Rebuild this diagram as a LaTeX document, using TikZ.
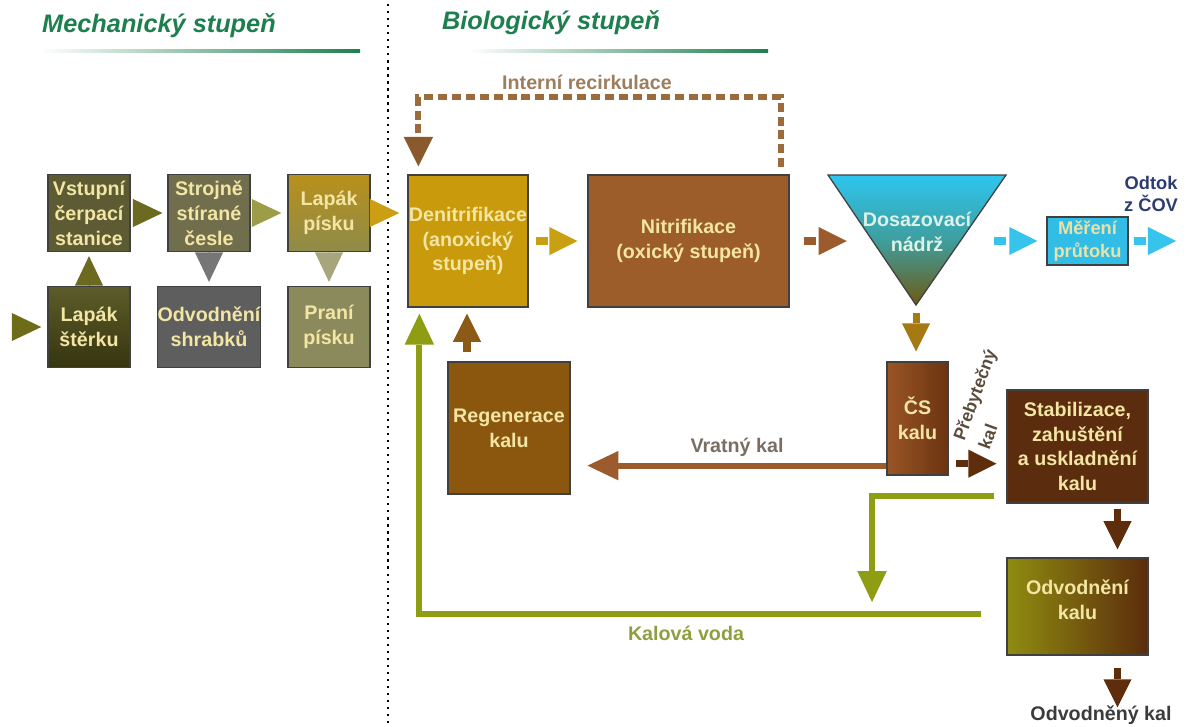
\documentclass[tikz,border=0pt]{standalone}
\usepackage{fontspec}
\setmainfont{Liberation Sans}
\usetikzlibrary{arrows.meta,calc}
\definecolor{Title}{HTML}{1E7F4E}
\definecolor{BoxText}{HTML}{F3E6A4}
\definecolor{Vstup}{HTML}{5C5B33}
\definecolor{Cesle}{HTML}{706E4D}
\definecolor{LapakPTop}{HTML}{B8901A}
\definecolor{LapakPBot}{HTML}{8F8B4A}
\definecolor{LapakSTop}{HTML}{5D5C2A}
\definecolor{LapakSBot}{HTML}{35350F}
\definecolor{Shrabky}{HTML}{5E5E5E}
\definecolor{Prani}{HTML}{8B8A5D}
\definecolor{TriIn}{HTML}{6E6C18}
\definecolor{TriOlive}{HTML}{6B6A20}
\definecolor{TriOliveL}{HTML}{9D9C48}
\definecolor{TriGold}{HTML}{CC9E14}
\definecolor{TriGray}{HTML}{767676}
\definecolor{TriGrayOl}{HTML}{A6A57C}
\definecolor{Denit}{HTML}{C99A0C}
\definecolor{Nitri}{HTML}{9C5D2A}
\definecolor{Regen}{HTML}{8B570E}
\definecolor{CSl}{HTML}{9A5526}
\definecolor{CSr}{HTML}{6B3410}
\definecolor{Stab}{HTML}{5B2C0D}
\definecolor{OdvkL}{HTML}{8F8C10}
\definecolor{OdvkR}{HTML}{5B2C0D}
\definecolor{NadTop}{HTML}{2EC5EF}
\definecolor{NadMid}{HTML}{3E9E9E}
\definecolor{NadBot}{HTML}{6E5A14}
\definecolor{NadText}{HTML}{DDF2E6}
\definecolor{Cyan}{HTML}{36C3EC}
\definecolor{MerFill}{HTML}{32BDE6}
\definecolor{MerText}{HTML}{E9E2A8}
\definecolor{OdtokTxt}{HTML}{2D3C6E}
\definecolor{ArrGold}{HTML}{C9A012}
\definecolor{ArrBrown}{HTML}{9B5B2D}
\definecolor{ArrGB}{HTML}{A67912}
\definecolor{ArrDark}{HTML}{5E2D0C}
\definecolor{ArrRegen}{HTML}{8C5A16}
\definecolor{Kalova}{HTML}{8E9D12}
\definecolor{KalovaTxt}{HTML}{8F9E3E}
\definecolor{Recirc}{HTML}{9B6B3B}
\definecolor{RecircTip}{HTML}{8A5A2C}
\definecolor{RecircTxt}{HTML}{9C7E5E}
\definecolor{VratnyTxt}{HTML}{7A6E62}
\definecolor{PrebTxt}{HTML}{5B4B3B}
\definecolor{OdvKalTxt}{HTML}{3B3B3B}

\tikzset{
  stage/.style={draw=black!75,line width=0.9pt,align=center,inner sep=0pt,text=BoxText,
    font=\fontsize{14}{17.7}\selectfont\bfseries},
  heading/.style={font=\fontsize{18}{22}\selectfont\bfseries\itshape,text=Title,inner sep=0pt},
  lbl/.style={font=\fontsize{14}{17.7}\selectfont\bfseries,inner sep=0pt,align=center},
  mtri/.style={line width=0.4pt,-{Triangle[length=21pt,width=20pt,line width=0pt]}},
  stub/.style={line width=5pt,dash pattern=on 8.5pt off 2.5pt,-{Triangle[length=20pt,width=20pt,line width=0pt]}},
  flow/.style={line width=4.4pt,-{Triangle[length=22pt,width=21pt,line width=0pt]}},
  recirc/.style={line width=4.3pt,Recirc,dash pattern=on 6.4pt off 3.5pt,
    -{Triangle[length=21pt,width=21pt,line width=0pt,color=RecircTip]}},
}

\begin{document}
\begin{tikzpicture}[x=0.025cm,y=-0.025cm]
\useasboundingbox (0,0) rectangle (1187,726);
% headings
\node[heading] (mech) at (159,26) {Mechanický stupeň};
\node[heading] (bio) at (551,23) {Biologický stupeň};
\shade[left color=white,right color=Title] (40,49) rectangle (360,52);
\shade[left color=white,right color=Title] (467,49) rectangle (768,52);
\draw[line width=1.6pt,dash pattern=on 1.6pt off 3.4pt] (388,4) -- (388,726);

% mechanical stage
\node[stage,fill=Vstup,minimum width=2.05cm,minimum height=1.925cm] (vstup) at (89,213) {Vstupní\\čerpací\\stanice};
\node[stage,fill=Cesle,minimum width=2.05cm,minimum height=1.925cm] (cesle) at (209,213) {Strojně\\stírané\\česle};
\node[stage,top color=LapakPTop,bottom color=LapakPBot,minimum width=2.05cm,minimum height=1.925cm] (lapakp) at (329,213) {Lapák\\písku};
\node[stage,top color=LapakSTop,bottom color=LapakSBot,minimum width=2.05cm,minimum height=2.025cm] (lapaks) at (89,327) {Lapák\\štěrku};
\node[stage,fill=Shrabky,minimum width=2.05cm,minimum height=2.025cm] (shrabky) at (209,327) {Odvodnění\\shrabků};
\node[stage,fill=Prani,minimum width=2.05cm,minimum height=2.025cm] (prani) at (329,327) {Praní\\písku};
\coordinate (in) at (13.5,327);

% biological stage
\node[stage,fill=Denit,minimum width=3cm,minimum height=3.3cm] (denit) at (468,241) {Denitrifikace\\(anoxický\\stupeň)};
\node[stage,fill=Nitri,minimum width=5.025cm,minimum height=3.3cm] (nitri) at (688.5,241) {Nitrifikace\\(oxický stupeň)};
\coordinate (ntl) at (828,175);
\coordinate (ntr) at (1006,175);
\coordinate (nbot) at (916,305);
\shadedraw[draw=black!75,line width=0.9pt,top color=NadTop,bottom color=NadBot,middle color=NadMid] (ntl) -- (ntr) -- (nbot) -- cycle;
\node[stage,draw=none,text=NadText] (nadrz) at (917,232) {Dosazovací\\nádrž};
\node[stage,fill=MerFill,text=MerText,minimum width=2.025cm,minimum height=1.2cm,
  font=\fontsize{13}{16}\selectfont\bfseries] (mereni) at (1087.5,241) {Měření\\průtoku};
\coordinate (out) at (1176,241);
\node[lbl,text=OdtokTxt,font=\fontsize{13}{15.6}\selectfont\bfseries] (odtok) at (1151,194) {Odtok\\z ČOV};
\node[stage,fill=Regen,minimum width=3.05cm,minimum height=3.3cm] (regen) at (509,428) {Regenerace\\kalu};
\node[stage,left color=CSl,right color=CSr,minimum width=1.525cm,minimum height=2.825cm] (cs) at (917.5,418.5) {ČS\\kalu};
\node[stage,fill=Stab,minimum width=3.525cm,minimum height=2.825cm] (stab) at (1077.5,446.5) {Stabilizace,\\zahuštění\\a uskladnění\\kalu};
\node[stage,left color=OdvkL,right color=OdvkR,minimum width=3.525cm,minimum height=2.425cm] (odvk) at (1077.5,606.5) {Odvodnění\\kalu\\[-7.7pt]};
\node[lbl,text=OdvKalTxt,anchor=north] (odvkal) at (1101,706) {Odvodněný kal};

% labels
\node[lbl,text=RecircTxt] (irlbl) at (587,82) {Interní recirkulace};
\node[lbl,text=VratnyTxt] (vklbl) at (737,447) {Vratný kal};
\node[lbl,text=KalovaTxt] (kvlbl) at (686,633) {Kalová voda};
\node[lbl,text=PrebTxt,rotate=70,align=left,font=\fontsize{12.5}{19}\selectfont\bfseries] (preb) at (987,399) {Přebytečný\\kal};

% mechanical connectors
\draw[mtri,TriIn,shorten >=4.3pt] (in) -- (lapaks);
\draw[mtri,TriOlive,shorten <=2pt,shorten >=3.5pt] (vstup) -- (cesle);
\draw[mtri,TriOliveL,shorten <=2pt,shorten >=4.3pt] (cesle) -- (lapakp);
\draw[mtri,TriGold,shorten >=5.7pt] (lapakp.east) -- (lapakp.east -| denit.west);
\draw[mtri,TriOlive,shorten <=2.8pt,shorten >=2.8pt] (lapaks) -- (vstup);
\draw[mtri,TriGray,shorten <=2.8pt,shorten >=2.8pt] (cesle) -- (shrabky);
\draw[mtri,TriGrayOl,shorten <=2.8pt,shorten >=2.8pt] (lapakp) -- (prani);

% biological connectors
\draw[stub,ArrGold,shorten <=5pt,shorten >=7pt] (denit) -- (nitri);
\draw[stub,ArrBrown,shorten <=10pt,shorten >=11pt] (nitri.east) -- (nitri.east -| nadrz.west);
\draw[stub,Cyan,shorten <=16pt,shorten >=6.4pt] (mereni.west -| nadrz.east) -- (mereni.west);
\draw[stub,Cyan,shorten <=3.5pt] (mereni) -- (out);
\draw[stub,ArrGB,shorten <=5.7pt,shorten >=7pt] (nbot) -- (nbot |- cs.north);
\coordinate (csx) at ([yshift=0.3cm]cs.south east);
\draw[stub,ArrDark,shorten <=5pt,shorten >=7pt] (csx) -- (csx -| stab.west);
\coordinate (vk) at ([yshift=0.25cm]cs.south west);
\draw[flow,ArrBrown,shorten >=12pt] (vk) -- (vk -| regen.east);
\coordinate (rg) at ([xshift=-1.05cm]regen.north);
\draw[stub,ArrRegen,shorten <=7pt,shorten >=4.3pt] (rg) -- (rg |- denit.south);
\coordinate (so) at ([xshift=1cm]stab.south);
\draw[stub,ArrDark,shorten <=3.5pt,shorten >=5.7pt] (so) -- (so |- odvk.north);
\coordinate (ok) at ([xshift=1cm]odvk.south);
\draw[stub,ArrDark,shorten <=9pt,shorten >=-1pt] (ok) -- (ok |- odvkal.north);
\coordinate (kv) at ([yshift=-0.18cm]odvk.west);
\draw[flow,Kalova,shorten <=17.7pt,shorten >=4.3pt] (kv) -| ([xshift=0.3cm]denit.south west);
\coordinate (sg) at ([yshift=0.2cm]stab.south west);
\coordinate (kj) at (872,613);
\draw[flow,Kalova,shorten <=8.5pt,shorten >=7.8pt] (sg) -| (kj);
\coordinate (ir) at ([xshift=-0.225cm]nitri.north east);
\draw[recirc,shorten <=5pt,shorten >=5.7pt] (ir) -- ++(0,-77) -| ([xshift=0.275cm]denit.north west);
\end{tikzpicture}
\end{document}
